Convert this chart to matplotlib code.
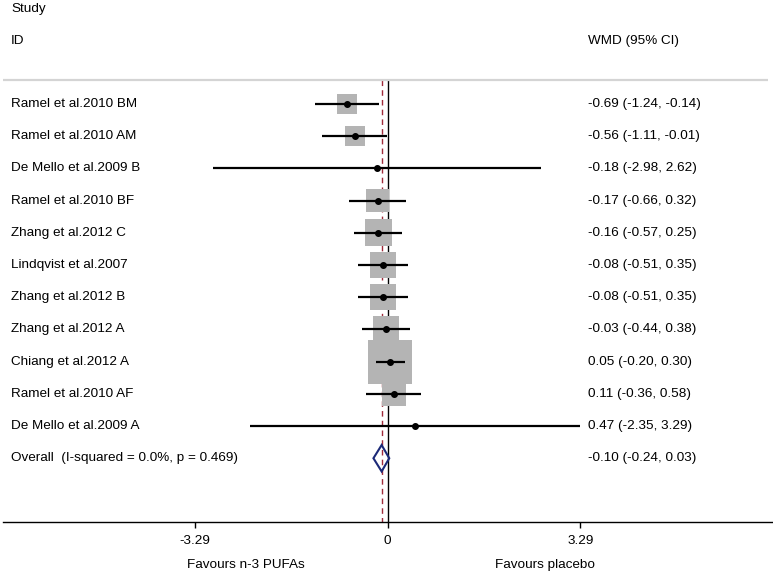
import matplotlib.pyplot as plt
import numpy as np

plt.rcParams['font.family'] = ['Liberation Sans', 'DejaVu Sans']

studies = ['Ramel et al.2010 BM', 'Ramel et al.2010 AM', 'De Mello et al.2009 B',
           'Ramel et al.2010 BF', 'Zhang et al.2012 C', 'Lindqvist et al.2007',
           'Zhang et al.2012 B', 'Zhang et al.2012 A', 'Chiang et al.2012 A',
           'Ramel et al.2010 AF', 'De Mello et al.2009 A']
wmd = [-0.69, -0.56, -0.18, -0.17, -0.16, -0.08, -0.08, -0.03, 0.05, 0.11, 0.47]
lo = [-1.24, -1.11, -2.98, -0.66, -0.57, -0.51, -0.51, -0.44, -0.20, -0.36, -2.35]
hi = [-0.14, -0.01, 2.62, 0.32, 0.25, 0.35, 0.35, 0.38, 0.30, 0.58, 3.29]
# weights (%)
weights = [6.1, 6.1, 0.25, 8.5, 11.0, 10.5, 10.5, 10.5, 29.5, 8.5, 0.25]

overall_label = 'Overall  (I-squared = 0.0%, p = 0.469)'
overall = [-0.10, -0.24, 0.03]

tick_vals = [-3.29, 0, 3.29]
tick_labels = ['-3.29', '0', '3.29']

fig = plt.figure(figsize=(7.73, 5.79), dpi=100)
ax = fig.add_axes([3 / 773, 57 / 579, 769 / 773, 522 / 579])
ax.set_xlim(-6.56, 6.56)
ax.set_ylim(12.98, -3.23)

fs = 9.7
n = len(studies)
rows = np.arange(n)
y_over = n

# header
ax.text(-6.42, -2.95, 'Study', fontsize=fs, va='center')
ax.text(-6.42, -1.95, 'ID', fontsize=fs, va='center')
ax.text(3.42, -1.95, 'WMD (95% CI)', fontsize=fs, va='center')
ax.plot([-6.56, 6.49], [-0.745, -0.745], color='#d4d4d4', lw=1.6, solid_capstyle='butt')

# reference lines
ax.plot([0, 0], [-0.745, 12.98], color='black', lw=1.0, zorder=1)
ax.plot([overall[0], overall[0]], [-0.745, 12.98], color='#a02a3a', lw=1.0,
        ls=(0, (4, 3)), zorder=1)

# boxes, CIs and points
ax.scatter(wmd, rows, s=[34 * w for w in weights], marker='s', color='#b4b4b4',
           edgecolors='none', zorder=2)
ax.hlines(rows, lo, hi, color='black', lw=1.6, zorder=3)
ax.scatter(wmd, rows, s=16, color='black', zorder=4)

for i in range(n):
    ax.text(-6.42, rows[i], studies[i], fontsize=fs, va='center')
    ax.text(3.42, rows[i], '%.2f (%.2f, %.2f)' % (wmd[i], lo[i], hi[i]),
            fontsize=fs, va='center')

# overall diamond
est, dlo, dhi = overall
ax.fill([dlo, est, dhi, est, dlo], [y_over, y_over - 0.41, y_over, y_over + 0.41, y_over],
        fill=False, edgecolor='#1c2a78', lw=1.5, zorder=5)
ax.text(-6.42, y_over, overall_label, fontsize=fs, va='center')
ax.text(3.42, y_over, '%.2f (%.2f, %.2f)' % (est, dlo, dhi), fontsize=fs, va='center')

# axis
for s in ['left', 'top', 'right']:
    ax.spines[s].set_visible(False)
ax.spines['bottom'].set_linewidth(1.0)
ax.set_yticks([])
ax.set_xticks(tick_vals)
ax.set_xticklabels(tick_labels, fontsize=fs)
ax.tick_params(axis='x', length=4, width=1, pad=5)

ax.text(-2.42, 14.3, 'Favours n-3 PUFAs', fontsize=fs, ha='center', va='center', clip_on=False)
ax.text(2.69, 14.3, 'Favours placebo', fontsize=fs, ha='center', va='center', clip_on=False)

plt.savefig('out.png', dpi=100)
